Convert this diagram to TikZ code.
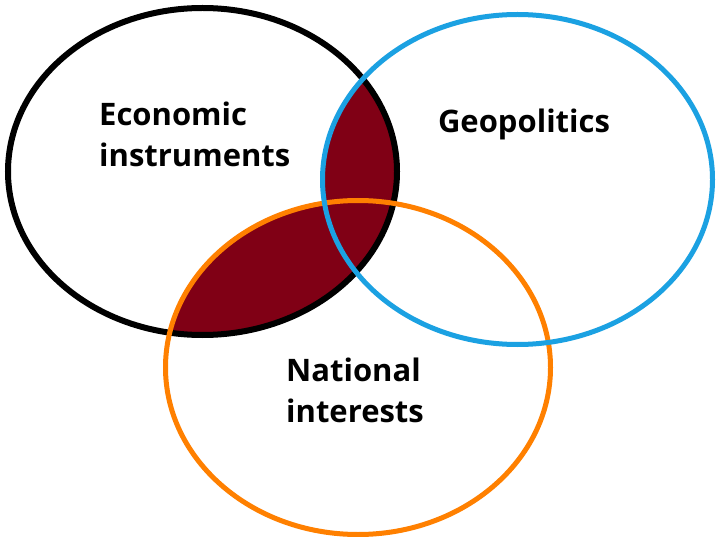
\documentclass[tikz,border=0pt]{standalone}
\usepackage{fontspec}
\setmainfont{Open Sans}
\definecolor{econline}{RGB}{0,0,0}
\definecolor{geoline}{RGB}{27,161,226}
\definecolor{natline}{RGB}{255,128,0}
\definecolor{overlap}{RGB}{128,0,21}
\begin{document}
\begin{tikzpicture}[x=1pt,y=-1pt,
  lbl/.style={font=\bfseries\fontsize{31}{41}\selectfont, align=left, inner sep=0pt, text=black}]
\useasboundingbox[fill=white] (0,0) rectangle (717,537);
% overlap of the economic circle with the other two
\begin{scope}
  \clip (202.5,171.5) ellipse [x radius=194.5, y radius=163.5];
  \fill[overlap] (517.5,179.5) ellipse [x radius=195, y radius=165]
                 (358,367.5) ellipse [x radius=192.5, y radius=167];
\end{scope}
% outlines
\draw[line width=6pt, econline] (202.5,171.5) ellipse [x radius=194.5, y radius=163.5];
\draw[line width=5pt, natline] (358,367.5) ellipse [x radius=192.5, y radius=167];
\draw[line width=5pt, geoline] (517.5,179.5) ellipse [x radius=195, y radius=165];
% labels
\node[lbl, anchor=west] (econ) at (99,134) {Economic\\instruments};
\node[lbl] (geo) at (524,124) {Geopolitics};
\node[lbl, anchor=west] (nat) at (286,390) {National\\interests};
\end{tikzpicture}
\end{document}
